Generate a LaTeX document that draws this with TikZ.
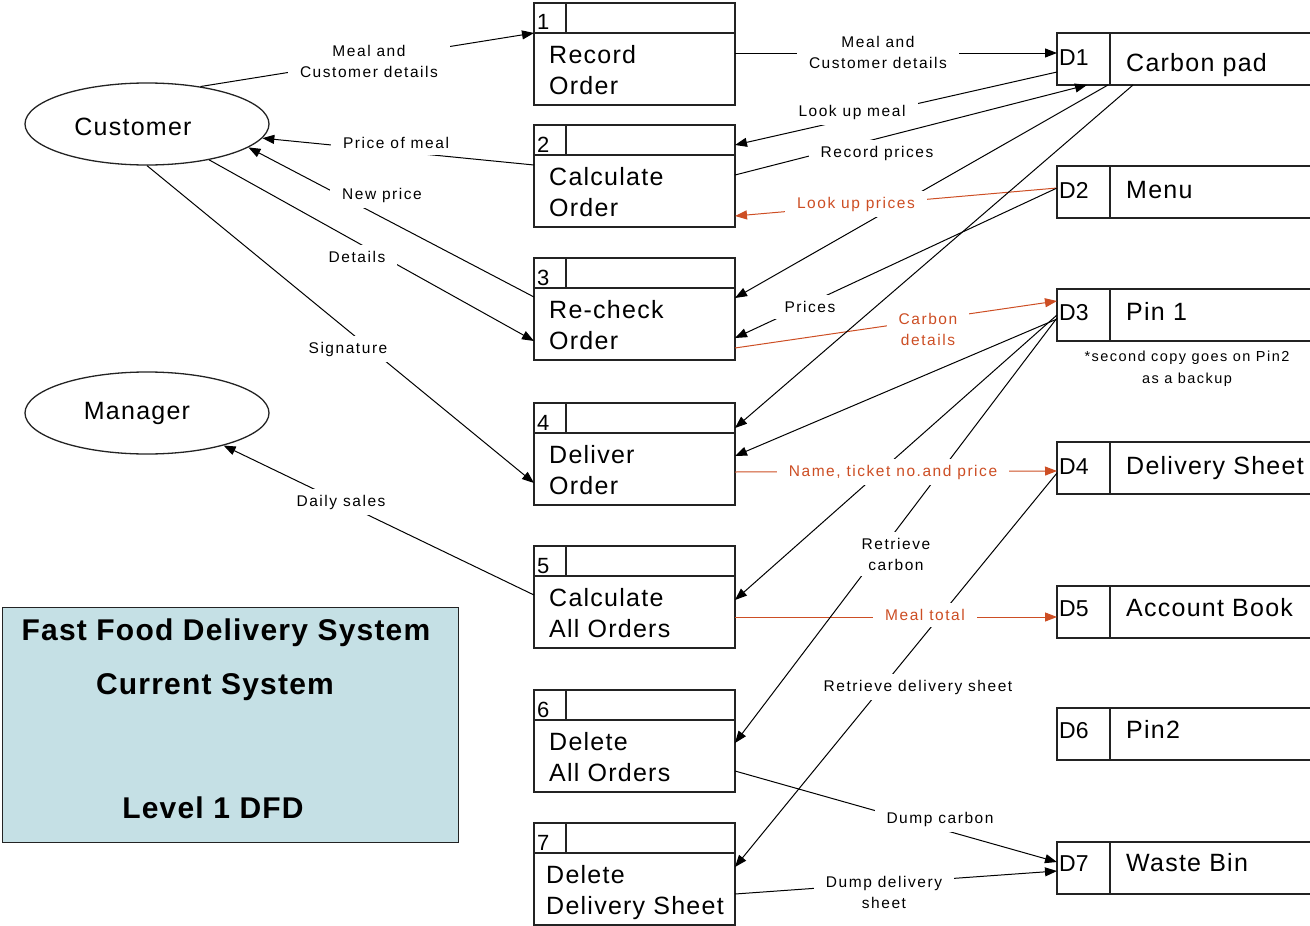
\documentclass[tikz,border=0pt]{standalone}
\usepackage{fontspec}
\setmainfont{Liberation Sans}
\newfontfamily\labelface[LetterSpace=10]{Liberation Sans}
\newfontfamily\boxface[LetterSpace=5]{Liberation Sans}
\newfontfamily\titleface[LetterSpace=4]{Liberation Sans}
\usetikzlibrary{arrows.meta,shapes.geometric,calc}

\definecolor{flowred}{RGB}{205,78,36}
\definecolor{titlefill}{RGB}{197,224,229}
\definecolor{boxline}{RGB}{35,35,35}

% process box: name, number, top edge, first line, second line, text indent
\newcommand\dfdprocess[6]{%
  \node[procbox] (#1) at (534,#3) {};
  \draw[divider] ([yshift=-30pt]#1.north west) -- ([yshift=-30pt]#1.north east);
  \draw[divider] ([xshift=32pt]#1.north west) -- ([xshift=32pt,yshift=-30pt]#1.north west);
  \node[numtext] (#1-n) at ($(#1.north west)+(3,27)$) {#2};
  \node[boxtext] (#1-a) at ($(#1.north west)+(#6,60)$) {#4};
  \node[boxtext] (#1-b) at ($(#1.north west)+(#6,91)$) {#5};
}
% data store: name, id, top edge, title, id baseline, title baseline
\newcommand\dfdstore[6]{%
  \node[storebox] (#1) at (1057,#3) {};
  \draw[divider] ([xshift=53pt]#1.north west) -- ([xshift=53pt]#1.south west);
  \node[idtext] (#1-id) at ($(#1.north west)+(2,#5)$) {#2};
  \node[boxtext] (#1-t) at ($(#1.north west)+(69,#6)$) {#4};
}

\begin{document}
\begin{tikzpicture}[x=1pt,y=-1pt,
  procbox/.style={draw=boxline, line width=1.6pt, minimum width=201pt, minimum height=102pt,
    anchor=north west, inner sep=0pt, outer sep=0pt},
  storebox/.style={draw=boxline, line width=1.6pt, minimum width=263pt, minimum height=52pt,
    anchor=north west, inner sep=0pt, outer sep=0pt},
  divider/.style={draw=boxline, line width=1.6pt},
  entity/.style={ellipse, draw=boxline, line width=1.3pt, minimum width=244pt,
    minimum height=82pt, inner sep=0pt},
  numtext/.style={anchor=base west, inner sep=0pt, font=\fontsize{22}{26}\selectfont},
  idtext/.style={anchor=base west, inner sep=0pt, font=\fontsize{23}{27}\selectfont},
  boxtext/.style={anchor=base west, inner sep=0pt, font={\boxface\fontsize{25}{30}\selectfont}},
  entitytext/.style={inner sep=0pt, font={\boxface\fontsize{25}{30}\selectfont}},
  titletext/.style={inner sep=0pt, font={\titleface\bfseries\fontsize{30}{36}\selectfont}},
  flow/.style={draw=black, line width=1pt, -{Triangle[length=12pt,width=9pt]}},
  redflow/.style={flow, draw=flowred},
  lbl/.style={fill=white, inner xsep=12pt, inner ysep=6pt, align=center,
    font={\labelface\fontsize{15.5}{21}\selectfont}},
  redlbl/.style={lbl, text=flowred},
  note/.style={inner sep=0pt, align=center, font={\labelface\fontsize{14.5}{22}\selectfont}}
]
\useasboundingbox (0,0) rectangle (1310,926);
\clip (0,0) rectangle (1310,926);

% external entities
\node[entity] (cust) at (147,124) {};
\node[entitytext] (cust-t) at (133,127) {Customer};
\node[entity] (mgr) at (147,413) {};
\node[entitytext] (mgr-t) at (137,413) {Manager};

% processes
\dfdprocess{p1}{1}{3}{Record}{Order}{15}
\dfdprocess{p2}{2}{125}{Calculate}{Order}{15}
\dfdprocess{p3}{3}{258}{Re-check}{Order}{15}
\dfdprocess{p4}{4}{403}{Deliver}{Order}{15}
\dfdprocess{p5}{5}{546}{Calculate}{All Orders}{15}
\dfdprocess{p6}{6}{690}{Delete}{All Orders}{15}
\dfdprocess{p7}{7}{823}{Delete}{Delivery Sheet}{12}

% data stores
\dfdstore{d1}{D1}{33}{Carbon pad}{32}{38}
\dfdstore{d2}{D2}{166}{Menu}{32}{32}
\dfdstore{d3}{D3}{289}{Pin 1}{31}{31}
\dfdstore{d4}{D4}{442}{Delivery Sheet}{32}{32}
\dfdstore{d5}{D5}{586}{Account Book}{30}{30}
\dfdstore{d6}{D6}{708}{Pin2}{30}{30}
\dfdstore{d7}{D7}{842}{Waste Bin}{29}{29}

\node[note] (d3-note) at (1187,369) {*second copy goes on Pin2\\as a backup};

% title panel
\node[draw=boxline, line width=1.4pt, fill=titlefill, minimum width=456pt, minimum height=235pt,
  anchor=north west, inner sep=0pt] (titlebox) at (2,607) {};
\node[titletext] (title-a) at (226,633) {Fast Food Delivery System};
\node[titletext] (title-b) at (215,687) {Current System};
\node[titletext] (title-c) at (213,808) {Level 1 DFD};

% data flows
\draw[flow] (cust.35) -- ([yshift=-30pt]p1.north west);
\draw[flow] ([yshift=-50pt]p1.north east) -- ([yshift=-20pt]d1.north west);
\draw[flow] ([yshift=-39pt]d1.north west) -- ([yshift=-20pt]p2.north east);
\draw[flow] ([yshift=-50pt]p2.north east) -- ([xshift=30pt]d1.south west);
\draw[redflow] ([yshift=-22pt]d2.north west) -- ([yshift=-91pt]p2.north east);
\draw[flow] ([xshift=51pt]d1.south west) -- ([yshift=-40pt]p3.north east);
\draw[flow] ([yshift=-22pt]d2.north west) -- ([yshift=-80pt]p3.north east);
\draw[redflow] ([yshift=-90pt]p3.north east) -- ([yshift=-12pt]d3.north west);
\draw[flow] ([xshift=76pt]d1.south west) -- ([yshift=-25pt]p4.north east);
\draw[flow] ([yshift=-30pt]d3.north west) -- ([yshift=-53pt]p4.north east);
\draw[redflow] ([yshift=-69pt]p4.north east) -- ([yshift=-29pt]d4.north west);
\draw[flow] ([yshift=-26pt]d3.north west) -- ([yshift=-54pt]p5.north east);
\draw[redflow] ([yshift=-71pt]p5.north east) -- ([yshift=-31pt]d5.north west);
\draw[flow] ([yshift=-29pt]d3.north west) -- ([yshift=-53pt]p6.north east);
\draw[flow] ([yshift=-31pt]d4.north west) -- ([yshift=-44pt]p7.north east);
\draw[flow] ([yshift=-81pt]p6.north east) -- ([yshift=-20pt]d7.north west);
\draw[flow] ([yshift=-71pt]p7.north east) -- ([yshift=-29pt]d7.north west);
\draw[flow] ([yshift=-40pt]p2.north west) -- (cust.-7);
\draw[flow] ([yshift=-39pt]p3.north west) -- (cust.-13);
\draw[flow] (cust.-30) -- ([yshift=-83pt]p3.north west);
\draw[flow] (cust.south) -- ([yshift=-80pt]p4.north west);
\draw[flow] ([yshift=-49pt]p5.north west) -- (mgr.-23);

% flow labels
\node[lbl] (l-mc1) at (369,61) {Meal and\\Customer details};
\node[lbl] (l-mc2) at (878,52) {Meal and\\Customer details};
\node[lbl] (l-lum) at (852,112) {Look up meal};
\node[lbl] (l-rp) at (877,153) {Record prices};
\node[redlbl] (l-lup) at (856,204) {Look up prices};
\node[lbl] (l-pr) at (810,307) {Prices};
\node[redlbl] (l-cd) at (928,329) {Carbon\\details};
\node[redlbl] (l-ntp) at (893,472) {Name, ticket no.and price};
\node[lbl] (l-rc) at (896,554) {Retrieve\\carbon};
\node[redlbl] (l-mt) at (925,615) {Meal total};
\node[lbl] (l-rds) at (918,687) {Retrieve delivery sheet};
\node[lbl] (l-dc) at (940,819) {Dump carbon};
\node[lbl] (l-dds) at (884,892) {Dump delivery\\sheet};
\node[lbl] (l-pm) at (396,143) {Price of meal};
\node[lbl] (l-np) at (382,195) {New price};
\node[lbl] (l-det) at (357,257) {Details};
\node[lbl] (l-sig) at (348,349) {Signature};
\node[lbl] (l-ds) at (341,502) {Daily sales};
\end{tikzpicture}
\end{document}
